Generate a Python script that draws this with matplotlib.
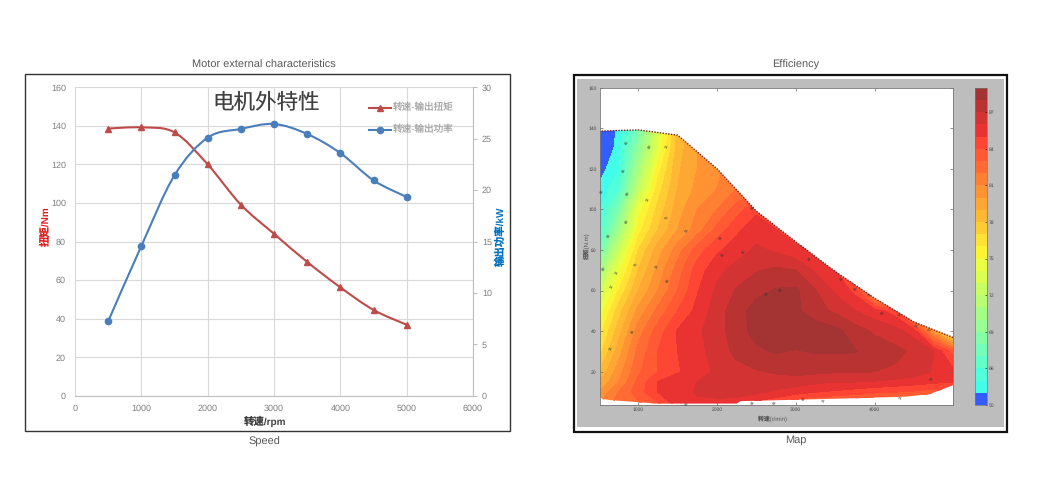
import numpy as np
import matplotlib
matplotlib.use("Agg")
import matplotlib.pyplot as plt
from matplotlib.path import Path
from matplotlib.patches import PathPatch, Polygon, Rectangle

plt.rcParams['font.family'] = ['Liberation Sans', 'Noto Sans CJK SC']
plt.rcParams['axes.unicode_minus'] = False
plt.rcParams['text.hinting'] = 'none'
plt.rcParams['text.hinting_factor'] = 1

W, H = 1059, 488

speed = [500, 1000, 1500, 2000, 2500, 3000, 3500, 4000, 4500, 5000]
torque = [138.6, 139.2, 136.6, 120.0, 99.1, 84.0, 69.4, 56.2, 44.5, 36.8]
power = [7.23, 14.56, 21.44, 25.1, 25.95, 26.43, 25.46, 23.6, 20.95, 19.33]

# lower limit of the efficiency map
floor_speed = [500, 550, 650, 1200, 2250, 2300, 3700, 4400, 4700, 5000]
floor_torque = [7.7, 6.5, 6.0, 4.4, 4.4, 5.5, 6.9, 7.7, 9.0, 13.4]

map_speed = [500, 750, 1000, 1250, 1500, 1750, 2000, 2250, 2500, 2750,
             3000, 3250, 3500, 3750, 4000, 4250, 4500, 4750, 5000]
map_torque = [4, 10, 15, 20, 30, 40, 50, 60, 70, 80, 90, 100, 110, 120, 130, 140]
efficiency = [
    [81.0, 82.5, 82.8, 83.8, 85.4, 85.8, 85.7, 85.5, 84.5, 84.0, 83.0, 82.5, 82.0, 82.0, 81.0, 81.0, 80.0, 80.0, 80.0],
    [80.0, 82.0, 83.5, 85.0, 85.6, 86.1, 86.3, 86.4, 86.2, 85.8, 85.4, 85.0, 84.8, 84.5, 84.2, 84.0, 83.8, 83.5, 84.0],
    [79.0, 81.0, 83.3, 85.0, 85.5, 86.0, 86.4, 86.6, 86.7, 86.6, 86.5, 86.2, 86.0, 86.0, 85.9, 85.7, 85.5, 85.2, 85.0],
    [78.0, 80.5, 82.8, 84.0, 84.9, 85.5, 86.2, 86.6, 86.9, 87.1, 87.3, 87.2, 87.1, 87.05, 87.0, 86.8, 86.5, 85.9, 85.2],
    [76.5, 79.5, 82.3, 84.0, 85.0, 85.7, 86.4, 87.3, 87.8, 88.1, 87.9, 88.1, 88.1, 88.05, 87.7, 87.3, 86.8, 86.0, 83.5],
    [75.5, 78.5, 81.5, 83.5, 85.1, 85.8, 86.6, 87.5, 88.4, 88.7, 88.8, 88.6, 88.3, 87.5, 86.8, 86.4, 85.5, 80.0, 74.0],
    [74.0, 77.5, 80.3, 82.3, 84.0, 85.3, 86.5, 87.6, 88.4, 88.5, 88.2, 87.4, 86.8, 86.0, 85.4, 84.5, 79.0, 75.0, 72.0],
    [72.5, 76.0, 79.0, 81.0, 83.0, 84.9, 86.2, 87.1, 87.7, 88.1, 88.2, 87.0, 85.8, 84.7, 79.0, 75.0, 72.0, 72.0, 72.0],
    [70.0, 74.5, 78.0, 80.3, 82.5, 84.5, 85.7, 86.4, 86.9, 87.2, 87.0, 85.8, 85.0, 82.0, 78.0, 75.0, 72.0, 72.0, 72.0],
    [67.0, 72.5, 77.0, 79.5, 81.5, 83.5, 84.8, 85.5, 86.2, 85.8, 85.2, 84.9, 83.5, 82.0, 78.0, 75.0, 72.0, 72.0, 72.0],
    [65.1, 70.0, 75.5, 78.0, 80.0, 81.5, 83.3, 84.8, 85.5, 85.0, 84.5, 83.0, 82.0, 80.0, 78.0, 75.0, 72.0, 72.0, 72.0],
    [64.7, 68.0, 74.5, 77.3, 79.5, 81.0, 82.0, 83.5, 84.8, 84.0, 83.0, 82.0, 81.0, 80.0, 78.0, 75.0, 72.0, 72.0, 72.0],
    [64.2, 65.8, 72.0, 76.5, 79.0, 80.3, 81.0, 82.0, 82.5, 82.5, 82.0, 81.0, 81.0, 80.0, 78.0, 75.0, 72.0, 72.0, 72.0],
    [63.5, 64.8, 70.5, 75.5, 78.8, 80.0, 80.8, 81.5, 82.0, 82.0, 82.0, 81.0, 81.0, 80.0, 78.0, 75.0, 72.0, 72.0, 72.0],
    [62.0, 64.6, 69.0, 74.0, 78.5, 80.0, 80.5, 81.0, 81.0, 81.0, 81.0, 81.0, 81.0, 80.0, 78.0, 75.0, 72.0, 72.0, 72.0],
    [61.0, 64.4, 67.5, 73.5, 78.5, 80.0, 80.5, 80.5, 81.0, 81.0, 81.0, 81.0, 81.0, 80.0, 78.0, 75.0, 72.0, 72.0, 72.0],
]
levels = [50] + list(range(64, 90))
cbar_ticks = [50, 66, 69, 72, 75, 78, 81, 84, 87]

# small labels printed on the contours
label_speed = [860, 1148, 1360, 822, 534, 873, 1127, 1360, 852, 631, 1623, 2051, 2080, 2343,
               966, 1233, 564, 729, 1373, 670, 2635, 2809, 936, 648, 3182, 3585, 3763, 3945,
               4101, 4326, 4538, 4707, 2462, 4728, 1614, 2453, 2729, 3097, 3360, 4339]
label_torque = [133, 131, 131, 119, 109, 108, 105, 96, 94, 87, 89.5, 86, 78, 79,
                73, 72, 71, 69, 65, 62, 58.4, 60.6, 40, 31.5, 76, 66, 61, 58,
                49, 48, 43, 41, 101, 16.7, 4.4, 5, 5, 7, 6, 7.3]
label_value = [66, 69, 72, 66, 64, 69, 72, 75, 69, 66, 78, 81, 84, 85,
               75, 78, 69, 72, 81, 72, 88, 88, 81, 78, 84, 84, 81, 78,
               81, 78, 78, 75, 81, 85, 85, 84, 81, 81, 78, 78]


def px_axes(fig, x0, y0, x1, y1, **kw):
    # pixel box measured from the top left of the picture
    return fig.add_axes([x0 / W, 1 - y1 / H, (x1 - x0) / W, (y1 - y0) / H], **kw)


def smooth_path(x, y):
    # same kind of smoothing as a spreadsheet line chart
    x = np.asarray(x, float)
    y = np.asarray(y, float)
    verts = [(x[0], y[0])]
    codes = [Path.MOVETO]
    for i in range(len(x) - 1):
        a = max(i - 1, 0)
        b = min(i + 2, len(x) - 1)
        verts.append((x[i] + (x[i + 1] - x[a]) / 6, y[i] + (y[i + 1] - y[a]) / 6))
        verts.append((x[i + 1] - (x[b] - x[i]) / 6, y[i + 1] - (y[b] - y[i]) / 6))
        verts.append((x[i + 1], y[i + 1]))
        codes += [Path.CURVE4] * 3
    return Path(verts, codes)


fig = plt.figure(figsize=(W / 100, H / 100), dpi=100, facecolor='white')

# left chart
GREY = '#7f7f7f'
RED = '#be4b48'
BLUE = '#4a7ebb'
fig.add_artist(Rectangle((25 / W, 1 - 431 / H), 485 / W, 357 / H, transform=fig.transFigure,
                         fill=False, ec='#333333', lw=1))

ax = px_axes(fig, 75, 87.3, 473, 395.7)
ax.set_xlim(0, 6000)
ax.set_ylim(0, 160)
ax.set_xticks(range(0, 7000, 1000))
ax.set_yticks(range(0, 180, 20))
ax.grid(color='#d9d9d9', lw=0.8)
ax.set_axisbelow(True)
ax.tick_params(length=0, labelsize=6.5, labelcolor=GREY, pad=6.5)
for s in ['top', 'right']:
    ax.spines[s].set_visible(False)
ax.spines['left'].set_color('#d9d9d9')
ax.spines['bottom'].set_color('#bfbfbf')
ax.add_patch(PathPatch(smooth_path(speed, torque), fill=False, ec=RED, lw=1.5))
ax.plot(speed, torque, ls='none', marker='^', ms=4.5, color=RED)
ax.set_xlabel('转速/rpm', fontsize=7.5, fontweight='bold', color='#404040', labelpad=2, x=0.479)
ax.set_ylabel('扭矩/Nm', fontsize=7.5, fontweight='bold', color='#e01b1b', labelpad=0, y=0.55)
ax.text(0.48, 0.952, '电机外特性', transform=ax.transAxes, fontsize=15.5, color='#404040', ha='center', va='center')

ax2 = ax.twinx()
ax2.set_ylim(0, 30)
ax2.set_yticks(range(0, 35, 5))
ax2.tick_params(length=3, width=0.8, color='#bfbfbf', labelsize=6.5, labelcolor=GREY, pad=3.5)
for s in ['top', 'left', 'bottom']:
    ax2.spines[s].set_visible(False)
ax2.spines['right'].set_color('#bfbfbf')
ax2.add_patch(PathPatch(smooth_path(speed, power), fill=False, ec=BLUE, lw=1.5))
ax2.plot(speed, power, ls='none', marker='o', ms=4.5, color=BLUE)
ax2.set_ylabel('输出功率/kW', fontsize=7.5, fontweight='bold', color='#0070c0', labelpad=3, y=0.518)

# legend drawn by hand, the entries sit far apart in the original
for y, name, c, m in [(108, '转速-输出扭矩', RED, '^'), (130, '转速-输出功率', BLUE, 'o')]:
    fig.add_artist(plt.Line2D([369 / W, 391 / W], [1 - y / H] * 2, color=c, lw=1.5, transform=fig.transFigure))
    fig.add_artist(plt.Line2D([380 / W], [1 - y / H], color=c, marker=m, ms=4.5, ls='none', transform=fig.transFigure))
    fig.text(393 / W, 1 - y / H, name, fontsize=6.9, color='#a6a6a6', va='center')

fig.text(264 / W, 1 - 65 / H, 'Motor external characteristics', fontsize=8.2, color='#595959', ha='center', va='center')
fig.text(264.5 / W, 1 - 442 / H, 'Speed', fontsize=8.2, color='#595959', ha='center', va='center')

# right chart
fig.add_artist(Rectangle((576.7 / W, 1 - 427 / H), 427.3 / W, 348 / H, transform=fig.transFigure,
                         fc='#bdbdbd', ec='none', zorder=-1))
fig.add_artist(Rectangle((573.5 / W, 1 - 431.5 / H), 433.5 / W, 357 / H, transform=fig.transFigure,
                         fill=False, ec='#111111', lw=1.6, zorder=-1))

mp = px_axes(fig, 599.5, 87.7, 952.7, 405)
mp.set_xlim(507, 4991)
mp.set_ylim(3.6, 160)
mp.set_xticks([1000, 2000, 3000, 4000])
mp.set_yticks(range(20, 180, 20))
mp.tick_params(direction='in', length=2, width=0.5, color='#666666', labelsize=3.6, labelcolor='#444444', pad=2,
               top=True, right=True)
for s in mp.spines.values():
    s.set_color('#777777')
    s.set_linewidth(0.6)

# jet at 80% over white, as solid colours so the bands leave no seams
jet = plt.get_cmap('jet')
mids = [(a + b) / 2 for a, b in zip(levels[:-1], levels[1:])]
band_colors = [tuple(0.8 * np.array(jet((m - 50) / 39)[:3]) + 0.2) for m in mids]
cs = mp.contourf(map_speed, map_torque, efficiency, levels=levels, colors=band_colors)
cs.set_edgecolor('face')
cs.set_linewidth(0.3)
outline = list(zip(speed, torque)) + list(zip(floor_speed[::-1], floor_torque[::-1]))
cs.set_clip_path(Polygon(outline, closed=True, transform=mp.transData))
mp.plot(speed, torque, ls=(0, (1, 1)), lw=1.0, color='#7a1f1f')
for sx, ty, v in zip(label_speed, label_torque, label_value):
    mp.text(sx, ty, str(v), fontsize=3.2, color='#333333', rotation=60, ha='center', va='center')
mp.set_xlabel('转速(r/min)', fontsize=4.2, color='#555555', labelpad=2, x=0.49)
mp.set_ylabel('扭矩(N.m)', fontsize=4.2, color='#555555', labelpad=-1, y=0.50)

cax = px_axes(fig, 975, 87.7, 987, 405)
cb = fig.colorbar(cs, cax=cax)
cb.set_ticks(cbar_ticks)
cb.ax.tick_params(direction='in', length=1.5, width=0.4, labelsize=3.6, labelcolor='#444444', pad=1.5)
cb.outline.set_edgecolor('#777777')
cb.outline.set_linewidth(0.5)

fig.text(795.5 / W, 1 - 64.5 / H, 'Efficiency', fontsize=8.2, color='#595959', ha='center', va='center')
fig.text(795.5 / W, 1 - 440 / H, 'Map', fontsize=8.2, color='#595959', ha='center', va='center')

fig.savefig('out.png', dpi=100)
